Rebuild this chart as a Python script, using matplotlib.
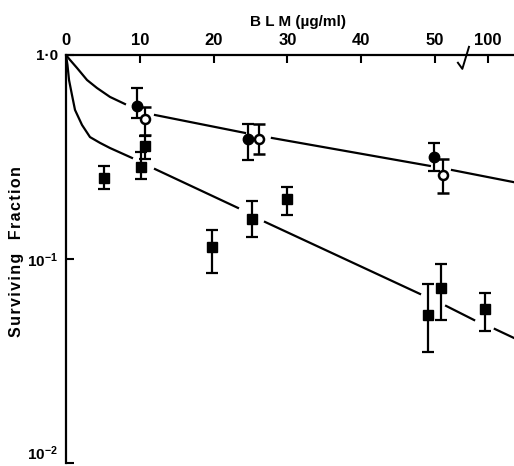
import matplotlib
matplotlib.use('Agg')
import matplotlib.pyplot as plt
from matplotlib.ticker import NullLocator
import numpy as np

plt.rcParams['font.family'] = ['Liberation Sans', 'DejaVu Sans']
plt.rcParams['mathtext.fontset'] = 'custom'
plt.rcParams['mathtext.rm'] = 'Liberation Sans:bold'
plt.rcParams['mathtext.bf'] = 'Liberation Sans:bold'

# x values are positions on the broken dose axis (0-50 linear, then 100)
tick_pos = [0, 10, 20, 30, 40, 50, 57.2]
tick_labels = ['0', '10', '20', '30', '40', '50', '100']

# filled circles
fc_x = [9.6, 24.6, 49.9]
fc_y = [0.562, 0.388, 0.316]
fc_lo = [0.491, 0.306, 0.27]
fc_hi = [0.689, 0.459, 0.37]

# open circles
oc_x = [10.7, 26.2, 51.1]
oc_y = [0.486, 0.388, 0.258]
oc_lo = [0.405, 0.327, 0.21]
oc_hi = [0.556, 0.459, 0.31]

# squares
sq_x = [5.15, 10.16, 10.7, 19.8, 25.2, 29.9, 49.05, 50.8, 56.8]
sq_y = [0.249, 0.282, 0.358, 0.115, 0.157, 0.197, 0.0532, 0.072, 0.0569]
sq_lo = [0.22, 0.247, 0.31, 0.085, 0.128, 0.164, 0.035, 0.05, 0.0446]
sq_hi = [0.286, 0.335, 0.40, 0.139, 0.193, 0.226, 0.0754, 0.094, 0.068]

# fitted curves (nan = gap where the line stops near a point)
up_x = [0, 0.5, 1.49, 2.85, 4.2, 5.96, 7.99, np.nan, 12.06, 24.25, np.nan, 27.9, 49.3, np.nan, 52.3, 60.7]
up_y = [1.0, 0.95, 0.864, 0.754, 0.689, 0.623, 0.575, np.nan, 0.508, 0.415, np.nan, 0.392, 0.286,
        np.nan, 0.273, 0.238]
lo_x = [0, 0.2, 0.41, 0.81, 1.22, 2.17, 3.25, 4.6, 5.96, 8.94, np.nan, 12.06, 23.3, np.nan, 26.96, 47.97,
        np.nan, 51.5, 55.3, np.nan, 58.1, 60.7]
lo_y = [1.0, 0.893, 0.754, 0.637, 0.538, 0.454, 0.396, 0.371, 0.350, 0.313, np.nan, 0.276, 0.178,
        np.nan, 0.152, 0.0674, np.nan, 0.0589, 0.0502, np.nan, 0.0454, 0.041]

fig = plt.figure(figsize=(5.14, 4.66), dpi=100)
ax = fig.add_axes([66/514, 1 - 463/466, 1 - 66/514, (463 - 55)/466])
ax.set_yscale('log')

ax.plot(up_x, up_y, color='black', lw=1.6, zorder=2)
ax.plot(lo_x, lo_y, color='black', lw=1.6, zorder=2)

def err(y, lo, hi):
    y, lo, hi = np.array(y), np.array(lo), np.array(hi)
    return [y - lo, hi - y]

ebkw = dict(ecolor='black', elinewidth=1.6, capsize=4, capthick=1.6, linestyle='none', zorder=3)
ax.errorbar(sq_x, sq_y, yerr=err(sq_y, sq_lo, sq_hi), marker='s', ms=7, mfc='black', mec='black', **ebkw)
ax.errorbar(fc_x, fc_y, yerr=err(fc_y, fc_lo, fc_hi), marker='o', ms=7.5, mfc='black', mec='black', **ebkw)
ax.errorbar(oc_x, oc_y, yerr=err(oc_y, oc_lo, oc_hi), marker='o', ms=6.5, mfc='white', mec='black',
            mew=1.8, **ebkw)

ax.set_xlim(0, 60.7)
ax.set_ylim(0.01, 1.0)

for s in ['right', 'bottom']:
    ax.spines[s].set_visible(False)
for s in ['top', 'left']:
    ax.spines[s].set_linewidth(1.6)

ax.xaxis.tick_top()
ax.set_xticks(tick_pos[1:])
ax.set_xticklabels(tick_labels[1:], fontsize=12, fontweight='bold')
ax.tick_params(axis='x', direction='in', length=6, width=1.5, pad=5)
ax.text(0, 1.0, '0', transform=ax.get_xaxis_transform(), ha='center', va='bottom',
        fontsize=12, fontweight='bold')
# push the x=0 label up to match the others
ax.texts[-1].set_y(1.0 + 7/408)

ax.set_yticks([0.01, 0.1, 1.0])
ax.set_yticklabels([r'$\mathbf{10^{-2}}$', r'$\mathbf{10^{-1}}$', '1·0'], fontsize=11, fontweight='bold')
ax.get_yticklabels()[0].set_verticalalignment('bottom')
ax.yaxis.set_minor_locator(NullLocator())
ax.tick_params(axis='y', direction='in', length=6, width=1.5, pad=6)

# axis break mark
brk = ax.get_xaxis_transform()
ax.plot([53.1, 53.7, 54.6], [0.981, 0.966, 1.02], transform=brk, color='black', lw=1.4, clip_on=False)

fig.text(298/514, 1 - 22/466, 'B L M (µg/ml)', ha='center', va='center', fontsize=11, fontweight='bold')
hs = '\u200a'
ylab = hs.join('Surviving') + '   ' + hs.join('Fraction')
fig.text(17/514, 1 - 252/466, ylab, rotation=90, ha='center', va='center',
         fontsize=11.5, fontweight='bold')

fig.savefig('out.png', dpi=100)
